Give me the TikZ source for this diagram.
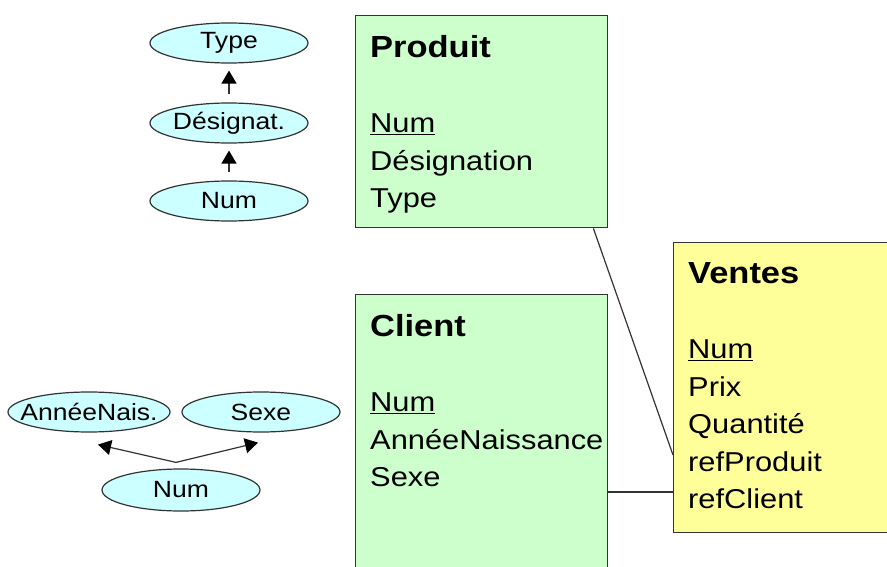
\documentclass[tikz,border=0pt]{standalone}
\usepackage{fontspec}
\setmainfont{Liberation Sans}[FakeStretch=1.13]
\usetikzlibrary{shapes.geometric, arrows.meta}

\definecolor{tblgreen}{HTML}{CCFFCC}
\definecolor{tblyellow}{HTML}{FFFF99}
\definecolor{attrcyan}{HTML}{CCFFFF}
\definecolor{edgegray}{HTML}{333333}

\newcommand{\tbltitle}[1]{{\fontsize{30.5}{37.5}\selectfont\bfseries #1}}

\begin{document}
\begin{tikzpicture}[x=1pt, y=-1pt,
	attr/.style={ellipse, draw=edgegray, line width=1.2pt, fill=attrcyan, minimum width=158pt, minimum height=40pt, inner xsep=-40pt, inner ysep=0pt, font=\fontsize{23.5}{28}\selectfont},
	tbl/.style={rectangle, draw=edgegray, line width=1.4pt, anchor=north west, inner sep=0pt},
	tbltext/.style={anchor=north west, inner sep=0pt, align=left, font=\fontsize{27.3}{37.5}\selectfont},
	link/.style={draw=edgegray, line width=1.2pt},
	arrowed/.style={link, -{Triangle[length=13pt, width=15pt, black]}},
	dep/.style={arrowed, shorten <=8pt, shorten >=7pt}]

	%% page frame
	\useasboundingbox (0,0) rectangle (887,567);
	\clip (0,0) rectangle (887,567);

	%% functional dependencies of Produit
	\node[attr] (type) at (229,43) {Type};
	\node[attr] (designat) at (229,123) {Désignat.};
	\node[attr] (numP) at (229,201) {Num};

	\draw[dep] (numP.north) -- (designat.south);
	\draw[dep] (designat.north) -- (type.south);

	%% functional dependencies of Client
	\node[attr, minimum width=162pt] (annee) at (89,412) {AnnéeNais.};
	\node[attr] (sexe) at (261,412) {Sexe};
	\node[attr, minimum height=42pt] (numC) at (181,490) {Num};

	\coordinate (fork) at ([xshift=-5pt, yshift=6pt]numC.north);
	\coordinate (anneeTip) at ([xshift=9pt, yshift=-12pt]annee.south);
	\coordinate (sexeTip) at ([xshift=-3pt, yshift=-10pt]sexe.south);
	\draw[arrowed] (fork) -- (anneeTip);
	\draw[arrowed] (fork) -- (sexeTip);

	%% tables
	\node[tbl, fill=tblgreen, minimum width=252pt, minimum height=212pt] (produit) at (355,15) {};
	\node[tbltext] (produitT) at ([xshift=15pt, yshift=-20pt]produit.north west)
		{\tbltitle{Produit}\\[38pt]\underline{Num}\\Désignation\\Type};

	\node[tbl, fill=tblgreen, minimum width=252pt, minimum height=300pt] (client) at (355,294) {};
	\node[tbltext] (clientT) at ([xshift=15pt, yshift=-20pt]client.north west)
		{\tbltitle{Client}\\[38pt]\underline{Num}\\AnnéeNaissance\\Sexe};

	\node[tbl, fill=tblyellow, minimum width=240pt, minimum height=290pt] (ventes) at (673,242) {};
	\node[tbltext] (ventesT) at ([xshift=15pt, yshift=-20pt]ventes.north west)
		{\tbltitle{Ventes}\\[38pt]\underline{Num}\\Prix\\Quantité\\refProduit\\refClient};

	%% links between tables
	\coordinate (prodFoot) at ([xshift=-15pt]produit.south east);
	\coordinate (ventesP) at ([yshift=-213pt]ventes.north west);
	\coordinate (ventesC) at ([yshift=-250pt]ventes.north west);
	\draw[link] (prodFoot) -- (ventesP);
	\draw[link] (client.east |- ventesC) -- (ventesC);

\end{tikzpicture}
\end{document}
